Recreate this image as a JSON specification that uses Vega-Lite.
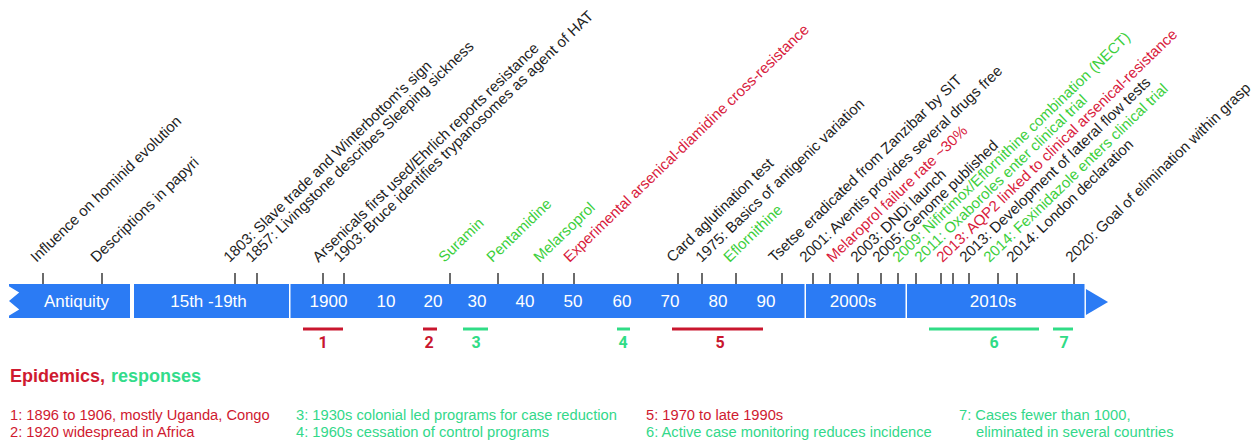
{
  "$schema": "https://vega.github.io/schema/vega-lite/v6.json",
  "width": 1256,
  "height": 443,
  "autosize": {"type": "fit", "contains": "padding"},
  "padding": 0,
  "background": "white",
  "config": {"view": {"stroke": null}, "text": {"font": "Liberation Sans"}},
  "datasets": {
    "segments": [
      {"start": 9, "end": 130, "name": "Antiquity"},
      {"start": 134, "end": 289, "name": "15th -19th"},
      {"start": 290.5, "end": 804.5, "name": "1900-1999"},
      {"start": 806, "end": 905.5, "name": "2000s"},
      {"start": 907, "end": 1084.5, "name": "2010s"}
    ],
    "bandLabels": [
      {"pos": 76.5, "text": "Antiquity"},
      {"pos": 208.5, "text": "15th -19th"},
      {"pos": 328.5, "text": "1900"},
      {"pos": 386, "text": "10"},
      {"pos": 433, "text": "20"},
      {"pos": 477, "text": "30"},
      {"pos": 525, "text": "40"},
      {"pos": 573, "text": "50"},
      {"pos": 622, "text": "60"},
      {"pos": 670, "text": "70"},
      {"pos": 718, "text": "80"},
      {"pos": 766, "text": "90"},
      {"pos": 853, "text": "2000s"},
      {"pos": 993, "text": "2010s"}
    ],
    "ticks": [
      {"pos": 43}, {"pos": 102}, {"pos": 235}, {"pos": 257}, {"pos": 323}, {"pos": 344},
      {"pos": 450}, {"pos": 498}, {"pos": 543}, {"pos": 574}, {"pos": 678}, {"pos": 702},
      {"pos": 736}, {"pos": 782}, {"pos": 813}, {"pos": 830}, {"pos": 858}, {"pos": 881},
      {"pos": 898}, {"pos": 916}, {"pos": 941}, {"pos": 953}, {"pos": 969}, {"pos": 998},
      {"pos": 1017}, {"pos": 1074}
    ],
    "events": [
      {"pos": 42, "label": "Influence on hominid evolution", "kind": "event"},
      {"pos": 102, "label": "Descriptions in papyri", "kind": "event"},
      {"pos": 235, "label": "1803: Slave trade and Winterbottom's sign", "kind": "event"},
      {"pos": 257, "label": "1857: Livingstone describes Sleeping sickness", "kind": "event"},
      {"pos": 324, "label": "Arsenicals first used/Ehrlich reports resistance", "kind": "event"},
      {"pos": 345, "label": "1903: Bruce identifies trypanosomes as agent of HAT", "kind": "event"},
      {"pos": 450, "label": "Suramin", "kind": "response"},
      {"pos": 498, "label": "Pentamidine", "kind": "response"},
      {"pos": 545, "label": "Melarsoprol", "kind": "response"},
      {"pos": 575, "label": "Experimental arsenical-diamidine cross-resistance", "kind": "resistance"},
      {"pos": 678, "label": "Card aglutination test", "kind": "event"},
      {"pos": 707, "label": "1975: Basics of antigenic variation", "kind": "event"},
      {"pos": 735, "label": "Eflornithine", "kind": "response"},
      {"pos": 780, "label": "Tsetse eradicated from Zanzibar by SIT", "kind": "event"},
      {"pos": 811, "label": "2001: Aventis provides several drugs free", "kind": "event"},
      {"pos": 838, "label": "Melaroprol failure rate ~30%", "kind": "resistance"},
      {"pos": 862, "label": "2003: DNDi launch", "kind": "event"},
      {"pos": 884, "label": "2005: Genome published", "kind": "event"},
      {"pos": 904, "label": "2009: Nifirtimox/Eflornithine combination (NECT)", "kind": "response"},
      {"pos": 926, "label": "2011: Oxaboroles enter clinical trial", "kind": "response"},
      {"pos": 948, "label": "2013: AQP2 linked to clinical arsenical-resistance", "kind": "resistance"},
      {"pos": 971, "label": "2013: Development of lateral flow tests", "kind": "event"},
      {"pos": 995, "label": "2014: Fexinidazole enters clinical trial", "kind": "response"},
      {"pos": 1018, "label": "2014: London declaration", "kind": "event"},
      {"pos": 1077, "label": "2020: Goal of elimination within grasp", "kind": "event"}
    ],
    "periods": [
      {"num": "1", "start": 303, "end": 343, "numPos": 323, "kind": "epidemic"},
      {"num": "2", "start": 423, "end": 437, "numPos": 429, "kind": "epidemic"},
      {"num": "3", "start": 463, "end": 488, "numPos": 476, "kind": "response"},
      {"num": "4", "start": 617, "end": 630, "numPos": 623, "kind": "response"},
      {"num": "5", "start": 672, "end": 763, "numPos": 720, "kind": "epidemic"},
      {"num": "6", "start": 929, "end": 1039, "numPos": 994, "kind": "response"},
      {"num": "7", "start": 1053, "end": 1073, "numPos": 1064, "kind": "response"}
    ],
    "header": [
      {"part": "Epidemics,", "kind": "epidemic"},
      {"part": "responses", "kind": "response"}
    ],
    "legendRows": [
      {"col": 1, "row": 1, "text": "1: 1896 to 1906, mostly Uganda, Congo", "kind": "epidemic", "cont": false},
      {"col": 1, "row": 2, "text": "2: 1920 widespread in Africa", "kind": "epidemic", "cont": false},
      {"col": 2, "row": 1, "text": "3: 1930s colonial led programs for case reduction", "kind": "response", "cont": false},
      {"col": 2, "row": 2, "text": "4: 1960s cessation of control programs", "kind": "response", "cont": false},
      {"col": 3, "row": 1, "text": "5: 1970 to late 1990s", "kind": "epidemic", "cont": false},
      {"col": 3, "row": 2, "text": "6: Active case monitoring reduces incidence", "kind": "response", "cont": false},
      {"col": 4, "row": 1, "text": "7: Cases fewer than 1000,", "kind": "response", "cont": false},
      {"col": 4, "row": 2, "text": "eliminated in several countries", "kind": "response", "cont": true}
    ]
  },
  "resolve": {"scale": {"x": "independent", "y": "independent", "color": "independent"}},
  "layer": [
    {
      "data": {"name": "segments"},
      "mark": {"type": "rect", "color": "#2b7bf4"},
      "encoding": {
        "x": {"field": "start", "type": "quantitative", "scale": {"domain": [0, 1256], "nice": false, "zero": false}, "axis": null},
        "x2": {"field": "end"},
        "y": {"datum": 284, "type": "quantitative", "scale": {"domain": [0, 443], "reverse": true, "nice": false, "zero": false}, "axis": null},
        "y2": {"datum": 318}
      }
    },
    {
      "data": {"values": [{"part": "arrowhead"}]},
      "mark": {"type": "point", "shape": "M-0.85,-1L0.85,0L-0.85,1Z", "size": 676, "filled": true, "fill": "#2b7bf4", "strokeWidth": 0, "opacity": 1},
      "encoding": {
        "x": {"datum": 1097, "type": "quantitative", "scale": {"domain": [0, 1256], "nice": false, "zero": false}, "axis": null},
        "y": {"datum": 302, "type": "quantitative", "scale": {"domain": [0, 443], "reverse": true, "nice": false, "zero": false}, "axis": null}
      }
    },
    {
      "data": {"values": [{"part": "notch"}]},
      "mark": {"type": "point", "shape": "M-0.3,-1.05L0.6,-0.5L0,0L0.6,0.5L-0.3,1.05Z", "size": 1156, "filled": true, "fill": "white", "strokeWidth": 0, "opacity": 1},
      "encoding": {
        "x": {"datum": 9, "type": "quantitative", "scale": {"domain": [0, 1256], "nice": false, "zero": false}, "axis": null},
        "y": {"datum": 301, "type": "quantitative", "scale": {"domain": [0, 443], "reverse": true, "nice": false, "zero": false}, "axis": null}
      }
    },
    {
      "data": {"name": "bandLabels"},
      "mark": {"type": "text", "color": "white", "fontSize": 17, "align": "center", "baseline": "middle"},
      "encoding": {
        "x": {"field": "pos", "type": "quantitative", "scale": {"domain": [0, 1256], "nice": false, "zero": false}, "axis": null},
        "y": {"datum": 301.5, "type": "quantitative", "scale": {"domain": [0, 443], "reverse": true, "nice": false, "zero": false}, "axis": null},
        "text": {"field": "text"}
      }
    },
    {
      "data": {"name": "ticks"},
      "mark": {"type": "rule", "color": "#3a3a3a", "strokeWidth": 1.5},
      "encoding": {
        "x": {"field": "pos", "type": "quantitative", "scale": {"domain": [0, 1256], "nice": false, "zero": false}, "axis": null},
        "y": {"datum": 273, "type": "quantitative", "scale": {"domain": [0, 443], "reverse": true, "nice": false, "zero": false}, "axis": null},
        "y2": {"datum": 284}
      }
    },
    {
      "data": {"name": "events"},
      "mark": {"type": "text", "fontSize": 15, "angle": -44, "align": "left", "baseline": "alphabetic", "dx": 3, "dy": -11},
      "encoding": {
        "x": {"field": "pos", "type": "quantitative", "scale": {"domain": [0, 1256], "nice": false, "zero": false}, "axis": null},
        "y": {"datum": 273, "type": "quantitative", "scale": {"domain": [0, 443], "reverse": true, "nice": false, "zero": false}, "axis": null},
        "text": {"field": "label"},
        "color": {"field": "kind", "type": "nominal", "scale": {"domain": ["event", "response", "resistance"], "range": ["#1e1e1e", "#3ccf3c", "#d8203c"]}, "legend": null}
      }
    },
    {
      "data": {"name": "periods"},
      "mark": {"type": "rule", "strokeWidth": 3},
      "encoding": {
        "x": {"field": "start", "type": "quantitative", "scale": {"domain": [0, 1256], "nice": false, "zero": false}, "axis": null},
        "x2": {"field": "end"},
        "y": {"datum": 329, "type": "quantitative", "scale": {"domain": [0, 443], "reverse": true, "nice": false, "zero": false}, "axis": null},
        "color": {"field": "kind", "type": "nominal", "scale": {"domain": ["epidemic", "response"], "range": ["#c9162e", "#30dc86"]}, "legend": null}
      }
    },
    {
      "data": {"name": "periods"},
      "mark": {"type": "text", "fontSize": 16, "fontWeight": "bold", "font": "Roboto", "align": "center", "baseline": "middle"},
      "encoding": {
        "x": {"field": "numPos", "type": "quantitative", "scale": {"domain": [0, 1256], "nice": false, "zero": false}, "axis": null},
        "y": {"datum": 342.5, "type": "quantitative", "scale": {"domain": [0, 443], "reverse": true, "nice": false, "zero": false}, "axis": null},
        "text": {"field": "num"},
        "color": {"field": "kind", "type": "nominal", "scale": {"domain": ["epidemic", "response"], "range": ["#c9162e", "#30dc86"]}, "legend": null}
      }
    },
    {
      "data": {"name": "header"},
      "mark": {"type": "text", "fontSize": 18, "fontWeight": "bold", "align": "left", "baseline": "middle"},
      "encoding": {
        "x": {"field": "part", "type": "nominal", "scale": {"type": "point", "domain": ["Epidemics,", "responses"], "range": [10, 111], "padding": 0}, "axis": null},
        "y": {"datum": 377, "type": "quantitative", "scale": {"domain": [0, 443], "reverse": true, "nice": false, "zero": false}, "axis": null},
        "text": {"field": "part"},
        "color": {"field": "kind", "type": "nominal", "scale": {"domain": ["epidemic", "response"], "range": ["#cf1a30", "#33dc8a"]}, "legend": null}
      }
    },
    {
      "data": {"name": "legendRows"},
      "transform": [{"filter": "!datum.cont"}],
      "mark": {"type": "text", "fontSize": 14.7, "align": "left", "baseline": "middle"},
      "encoding": {
        "x": {"field": "col", "type": "quantitative", "scale": {"domain": [1, 2, 3, 4], "range": [10, 296, 646, 959], "nice": false, "zero": false}, "axis": null},
        "y": {"field": "row", "type": "quantitative", "scale": {"domain": [1, 2], "range": [416, 433], "nice": false, "zero": false}, "axis": null},
        "text": {"field": "text"},
        "color": {"field": "kind", "type": "nominal", "scale": {"domain": ["epidemic", "response"], "range": ["#cf1a30", "#33d88a"]}, "legend": null}
      }
    },
    {
      "data": {"name": "legendRows"},
      "transform": [{"filter": "datum.cont"}],
      "mark": {"type": "text", "fontSize": 14.7, "align": "left", "baseline": "middle", "dx": 17},
      "encoding": {
        "x": {"field": "col", "type": "quantitative", "scale": {"domain": [1, 2, 3, 4], "range": [10, 296, 646, 959], "nice": false, "zero": false}, "axis": null},
        "y": {"field": "row", "type": "quantitative", "scale": {"domain": [1, 2], "range": [416, 433], "nice": false, "zero": false}, "axis": null},
        "text": {"field": "text"},
        "color": {"field": "kind", "type": "nominal", "scale": {"domain": ["epidemic", "response"], "range": ["#cf1a30", "#33d88a"]}, "legend": null}
      }
    }
  ]
}
